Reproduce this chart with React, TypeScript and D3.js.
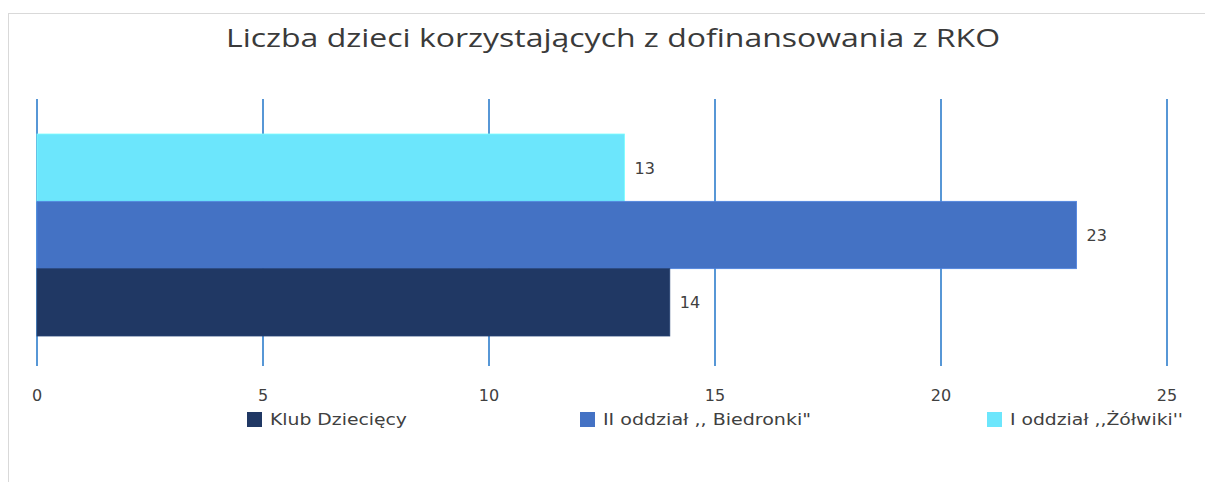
import React from "react";
import * as d3 from "d3";

const title = "Liczba dzieci korzystających z dofinansowania z RKO";
const seriesNames = ["Klub Dziecięcy", "II oddział ,, Biedronki\"", "I oddział ,,Żółwiki''"];
const seriesValues = [14, 23, 13];
const seriesColors = ["#203864", "#4472C4", "#6CE6FC"];
const xTicks = [0, 5, 10, 15, 20, 25];
const category = ["RKO"];

export default function App() {
  const W = 1205, H = 482;
  const x = d3.scaleLinear().domain([0, 25]).range([37, 1167]);
  const plotTop = 99, plotBottom = 366;
  const band = d3.scaleBand().domain(category).range([plotTop + 35, plotBottom - 30]).padding(0);
  // order top to bottom: last series at top
  const order = [2, 1, 0];
  const inner = d3.scaleBand<number>().domain(order).range([band("RKO")!, band("RKO")! + band.bandwidth()]);
  const legendX = [247, 580, 987];
  const legendW = [137, 208, 173];
  const font = "'DejaVu Sans', 'Noto Sans', sans-serif";
  return (
    <svg width={W} height={H} style={{ position: "absolute", left: 0, top: 0 }} fontFamily={font}>
      <rect x={0} y={0} width={W} height={H} fill="#fff" />
      <rect x={8.5} y={13.5} width={W + 20} height={H + 20} fill="#fff" stroke="#d9d9d9" strokeWidth={1} />
      <text x={613} y={47} textAnchor="middle" fontSize={25} fill="#3a3a3a" fontFamily="'Open Sans', sans-serif" textLength={774} lengthAdjust="spacingAndGlyphs">{title}</text>
      {xTicks.map((t) => (
        <line key={t} x1={x(t)} x2={x(t)} y1={plotTop} y2={plotBottom} stroke="#1f74c8" strokeWidth={1.5} />
      ))}
      {order.map((i) => (
        <g key={i}>
          <rect x={x(0)} y={inner(i)!} width={x(seriesValues[i]) - x(0)} height={inner.bandwidth()} fill={seriesColors[i]} stroke={d3.color(seriesColors[i])!.brighter(0.4).toString()} strokeWidth={0.8} />
          <text x={x(seriesValues[i]) + 10} y={inner(i)! + inner.bandwidth() / 2 + 6} fontSize={16} fill="#404040">{seriesValues[i]}</text>
        </g>
      ))}
      {xTicks.map((t) => (
        <text key={t} x={x(t)} y={401} textAnchor="middle" fontSize={16} fill="#404040">{t}</text>
      ))}
      {seriesNames.map((n, i) => (
        <g key={n}>
          <rect x={legendX[i]} y={412} width={15} height={15} fill={seriesColors[i]} />
          <text x={legendX[i] + 23} y={425} fontSize={16} fill="#404040" textLength={legendW[i]} lengthAdjust="spacingAndGlyphs">{n}</text>
        </g>
      ))}
    </svg>
  );
}
